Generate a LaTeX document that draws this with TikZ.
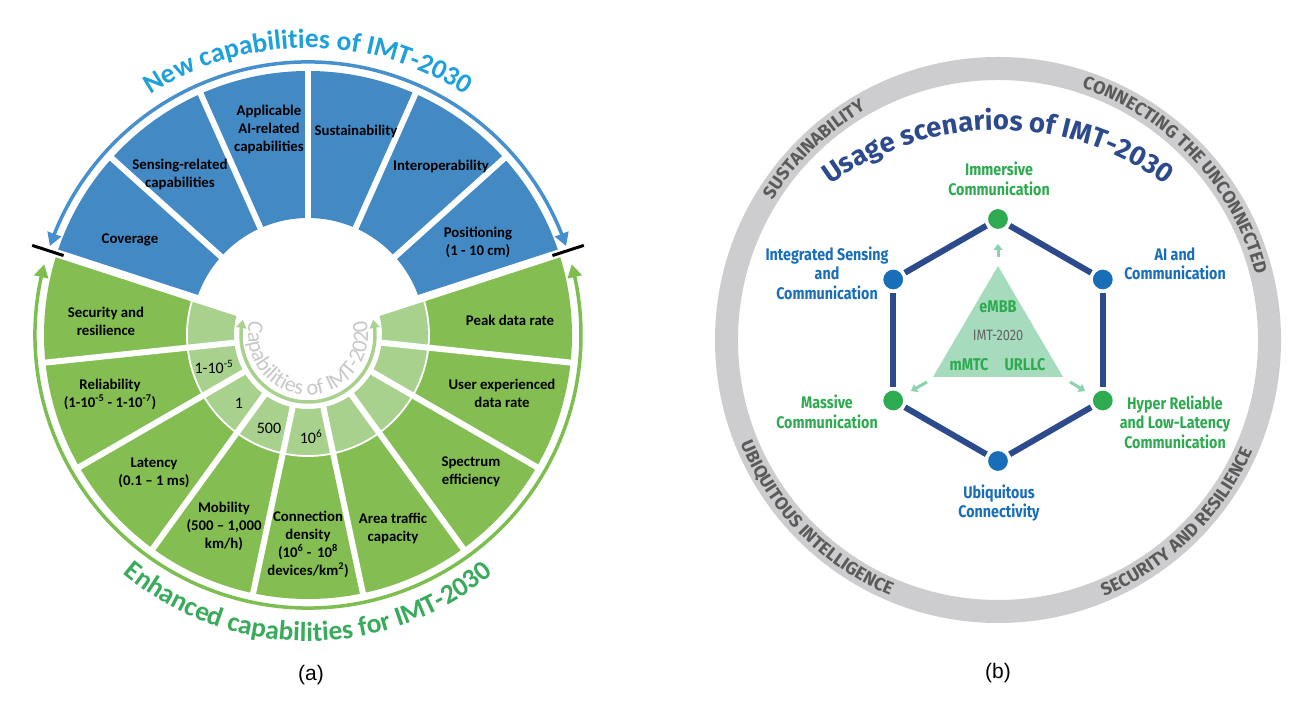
\documentclass[tikz,border=0pt]{standalone}
\usepackage{fontspec}
\setmainfont{Carlito}
\newfontfamily\firac{Fira Sans}[FakeStretch=0.85]
\newfontfamily\fira{Fira Sans}
\newfontfamily\labfont{Liberation Sans}
\usetikzlibrary{arrows.meta,decorations.text,calc,bending}
\definecolor{secblue}{RGB}{67,138,197}
\definecolor{secgreen}{RGB}{132,190,82}
\definecolor{lightgreen}{RGB}{169,209,142}
\definecolor{titblue}{RGB}{30,160,218}
\definecolor{titgreen}{RGB}{58,170,92}
\definecolor{arcblue}{RGB}{70,145,205}
\definecolor{arcgreen}{RGB}{125,190,80}
\definecolor{capgray}{RGB}{200,200,200}
\definecolor{ringgray}{RGB}{205,205,207}
\definecolor{ringtext}{RGB}{90,90,90}
\definecolor{navy}{RGB}{45,75,140}
\definecolor{ngreen}{RGB}{46,170,80}
\definecolor{nblue}{RGB}{25,110,185}
\definecolor{trifill}{RGB}{166,219,190}
\definecolor{mintarrow}{RGB}{140,210,175}
\definecolor{imtgray}{RGB}{100,100,100}
\begin{document}
\begin{tikzpicture}[x=1pt,y=1pt,
  captext/.style={font=\bfseries\fontsize{14.8}{18}\selectfont, align=center, text=black, inner sep=0pt},
  valtext/.style={font=\fontsize{16}{18}\selectfont, align=center, text=black, inner sep=0pt},
  sublab/.style={font=\labfont\fontsize{21}{24}\selectfont, inner sep=0pt},
  lg/.style={font=\firac\bfseries\fontsize{16.8}{19.5}\selectfont, align=center, text=ngreen, inner sep=0pt},
  lb/.style={font=\firac\bfseries\fontsize{16.8}{19.5}\selectfont, align=center, text=nblue, inner sep=0pt},
  tg/.style={font=\firac\bfseries\fontsize{17}{20}\selectfont, text=ngreen, inner sep=0pt},
  tgray/.style={font=\firac\fontsize{15}{18}\selectfont, text=imtgray, inner sep=0pt},
  hnode/.style={circle, minimum size=22pt, inner sep=0pt, draw=white, line width=2pt, outer sep=2.5pt},
  hexedge/.style={navy, line width=6pt},
  minta/.style={mintarrow, line width=3pt, -{Triangle[length=6pt,width=9pt]}}
]
\useasboundingbox (0,0) rectangle (1313,714);
\fill[white] (0,0) rectangle (1313,714);

% ---------------- left wheel ----------------
\coordinate (C1) at (308,379);
\begin{scope}[shift={(308,379)}]
  \foreach \a [evaluate=\a as \b using \a+24] in {18,42,...,138}
    \fill[secblue] (\a:117) arc[start angle=\a, end angle=\b, radius=117] -- (\b:264) arc[start angle=\b, end angle=\a, radius=264] -- cycle;
  \foreach \a [evaluate=\a as \b using \a+24] in {162,186,...,354}{
    \fill[secgreen] (\a:121) arc[start angle=\a, end angle=\b, radius=121] -- (\b:264) arc[start angle=\b, end angle=\a, radius=264] -- cycle;
    \fill[lightgreen] (\a:74) arc[start angle=\a, end angle=\b, radius=74] -- (\b:121) arc[start angle=\b, end angle=\a, radius=121] -- cycle;
  }
  \foreach \a in {18,42,...,354}
    \draw[white, line width=6pt] (\a:70) -- (\a:268);
  \draw[white, line width=8pt] (162:70) -- (162:268);
  \draw[white, line width=8pt] (18:70) -- (18:268);
  \draw[white, line width=1.8pt] (162:121) arc[start angle=162, end angle=378, radius=121];
  % outer arrows
  \draw[arcblue, line width=3.5pt, {Triangle[length=13pt,width=14pt]}-{Triangle[length=13pt,width=14pt]}]
    (19:273) arc[start angle=19, end angle=161, radius=273];
  \draw[arcgreen, line width=3.5pt, {Triangle[length=13pt,width=14pt]}-{Triangle[length=13pt,width=14pt]}]
    (165:273) arc[start angle=165, end angle=375, radius=273];
  \draw[black, line width=3pt] (162:257) -- (162:290);
  \draw[black, line width=3pt] (18:257) -- (18:290);
  % inner arrow
  \draw[lightgreen, line width=3.5pt, {Triangle[length=8pt,width=10pt]}-{Triangle[length=8pt,width=10pt]}]
    (167:67) arc[start angle=167, end angle=373, radius=67];
\end{scope}

% curved titles
\path[decorate, decoration={text along path, text align=center, text color=titblue,
  text={|\bfseries\fontsize{27.5}{27.5}\selectfont|New capabilities of IMT-2030}}]
  ($(C1)+(150:287)$) arc[start angle=150, end angle=30, radius=287];
\path[decorate, decoration={text along path, text align=center, text color=titgreen,
  text={|\bfseries\fontsize{27.5}{27.5}\selectfont|Enhanced capabilities for IMT-2030}}]
  ($(308,359.7)+(220:287)$) arc[start angle=220, end angle=320, radius=287];
\path[decorate, decoration={text along path, text align=center, text color=capgray,
  text={|\fontsize{22}{22}\selectfont|Capabilities of IMT-2020}}]
  ($(C1)+(150:60)$) arc[start angle=150, end angle=390, radius=60];

% sector labels
\node[captext] (cov) at (130,474) {Coverage};
\node[captext] (sens) at (180,540) {Sensing-related\\capabilities};
\node[captext] (ai) at (269,584.5) {Applicable\\AI-related\\capabilities};
\node[captext] (sus) at (356,583) {Sustainability};
\node[captext] (inter) at (441,548) {Interoperability};
\node[captext] (pos) at (478,472) {Positioning\\(1 - 10 cm)};
\node[captext] (sec) at (106,393) {Security and\\resilience};
\node[captext] (peak) at (510,394) {Peak data rate};
\node[captext] (rel) at (110,320) {Reliability\\(1-10\textsuperscript{-5} - 1-10\textsuperscript{-7})};
\node[captext] (user) at (502,321) {User experienced\\data rate};
\node[captext] (lat) at (154,241) {Latency\\(0.1 \textendash{} 1 ms)};
\node[captext] (spec) at (471,242) {Spectrum\\efficiency};
\node[captext] (mob) at (224,188) {Mobility\\(500 \textendash{} 1,000\\km/h)};
\node[captext] (conn) at (308,170) {Connection\\density\\(10\textsuperscript{6} -\, 10\textsuperscript{8}\\devices/km\textsuperscript{2})};
\node[captext] (area) at (393,186) {Area traffic\\capacity};
\node[valtext] (v1) at (214,347) {1-10\textsuperscript{-5}};
\node[valtext] (v2) at (239,311) {1};
\node[valtext] (v3) at (269,286) {500};
\node[valtext] (v4) at (311,277) {10\textsuperscript{6}};
\node[sublab] (la) at (311,39) {(a)};

% ---------------- right diagram ----------------
\coordinate (C2) at (998,374);
\draw[ringgray, line width=23pt] (C2) circle (271.5);
\path[decorate, decoration={text along path, text align=center, text color=ringtext,
  text={|\fira\bfseries\fontsize{18}{18}\selectfont|SUSTAINABILITY}}]
  ($(C2)+(160:265.5)$) arc[start angle=160, end angle=108, radius=265.5];
\path[decorate, decoration={text along path, text align=center, text color=ringtext,
  text={|\fira\bfseries\fontsize{18}{18}\selectfont|CONNECTING THE UNCONNECTED}}]
  ($(C2)+(82:265.5)$) arc[start angle=82, end angle=4, radius=265.5];
\path[decorate, decoration={text along path, text align=center, text color=ringtext,
  text={|\fira\bfseries\fontsize{18}{18}\selectfont|UBIQUITOUS INTELLIGENCE}}]
  ($(C2)+(188:277.5)$) arc[start angle=188, end angle=261, radius=277.5];
\path[decorate, decoration={text along path, text align=center, text color=ringtext,
  text={|\fira\bfseries\fontsize{18}{18}\selectfont|SECURITY AND RESILIENCE}}]
  ($(C2)+(278:277.5)$) arc[start angle=278, end angle=351, radius=277.5];
\path[decorate, decoration={text along path, text align=center, text color=navy,
  text={|\fira\bfseries\fontsize{27.5}{27.5}\selectfont|Usage scenarios of IMT-2030}}]
  ($(998,299)+(140:285)$) arc[start angle=140, end angle=40, radius=285];

% triangle
\fill[trifill] (998,448) -- (933,337) -- (1063,337) -- cycle;
\node[tg] (embb) at (998,407) {eMBB};
\node[tgray] (imt) at (998,379) {IMT-2020};
\node[tg] (mmtc) at (969,349) {mMTC};
\node[tg] (urllc) at (1025,349) {URLLC};
\coordinate (ua1) at (998,457); \coordinate (ua2) at (998,470);
\coordinate (la1) at (927,332); \coordinate (la2) at (911,323);
\coordinate (ra1) at (1070,332); \coordinate (ra2) at (1085,323);
\draw[minta] (ua1) -- (ua2);
\draw[minta] (la1) -- (la2);
\draw[minta] (ra1) -- (ra2);

% hexagon
\node[hnode, fill=ngreen] (h1) at (998,495) {};
\node[hnode, fill=nblue] (h2) at (893.2,434.5) {};
\node[hnode, fill=nblue] (h3) at (1102.8,434.5) {};
\node[hnode, fill=ngreen] (h4) at (893.2,313.5) {};
\node[hnode, fill=ngreen] (h5) at (1102.8,313.5) {};
\node[hnode, fill=nblue] (h6) at (998,253) {};
\draw[hexedge] (h1) -- (h2);
\draw[hexedge] (h1) -- (h3);
\draw[hexedge] (h2) -- (h4);
\draw[hexedge] (h3) -- (h5);
\draw[hexedge] (h4) -- (h6);
\draw[hexedge] (h5) -- (h6);

\node[lg] (imm) at (999,535) {Immersive\\Communication};
\node[lb] (isc) at (827,441) {Integrated Sensing\\and\\Communication};
\node[lb] (aic) at (1175,450) {AI and\\Communication};
\node[lg] (mas) at (827,302) {Massive\\Communication};
\node[lg] (hrl) at (1175,292) {Hyper Reliable\\and Low-Latency\\Communication};
\node[lb] (ubi) at (999,211) {Ubiquitous\\Connectivity};
\node[sublab] (lbb) at (998,41) {(b)};
\end{tikzpicture}
\end{document}
